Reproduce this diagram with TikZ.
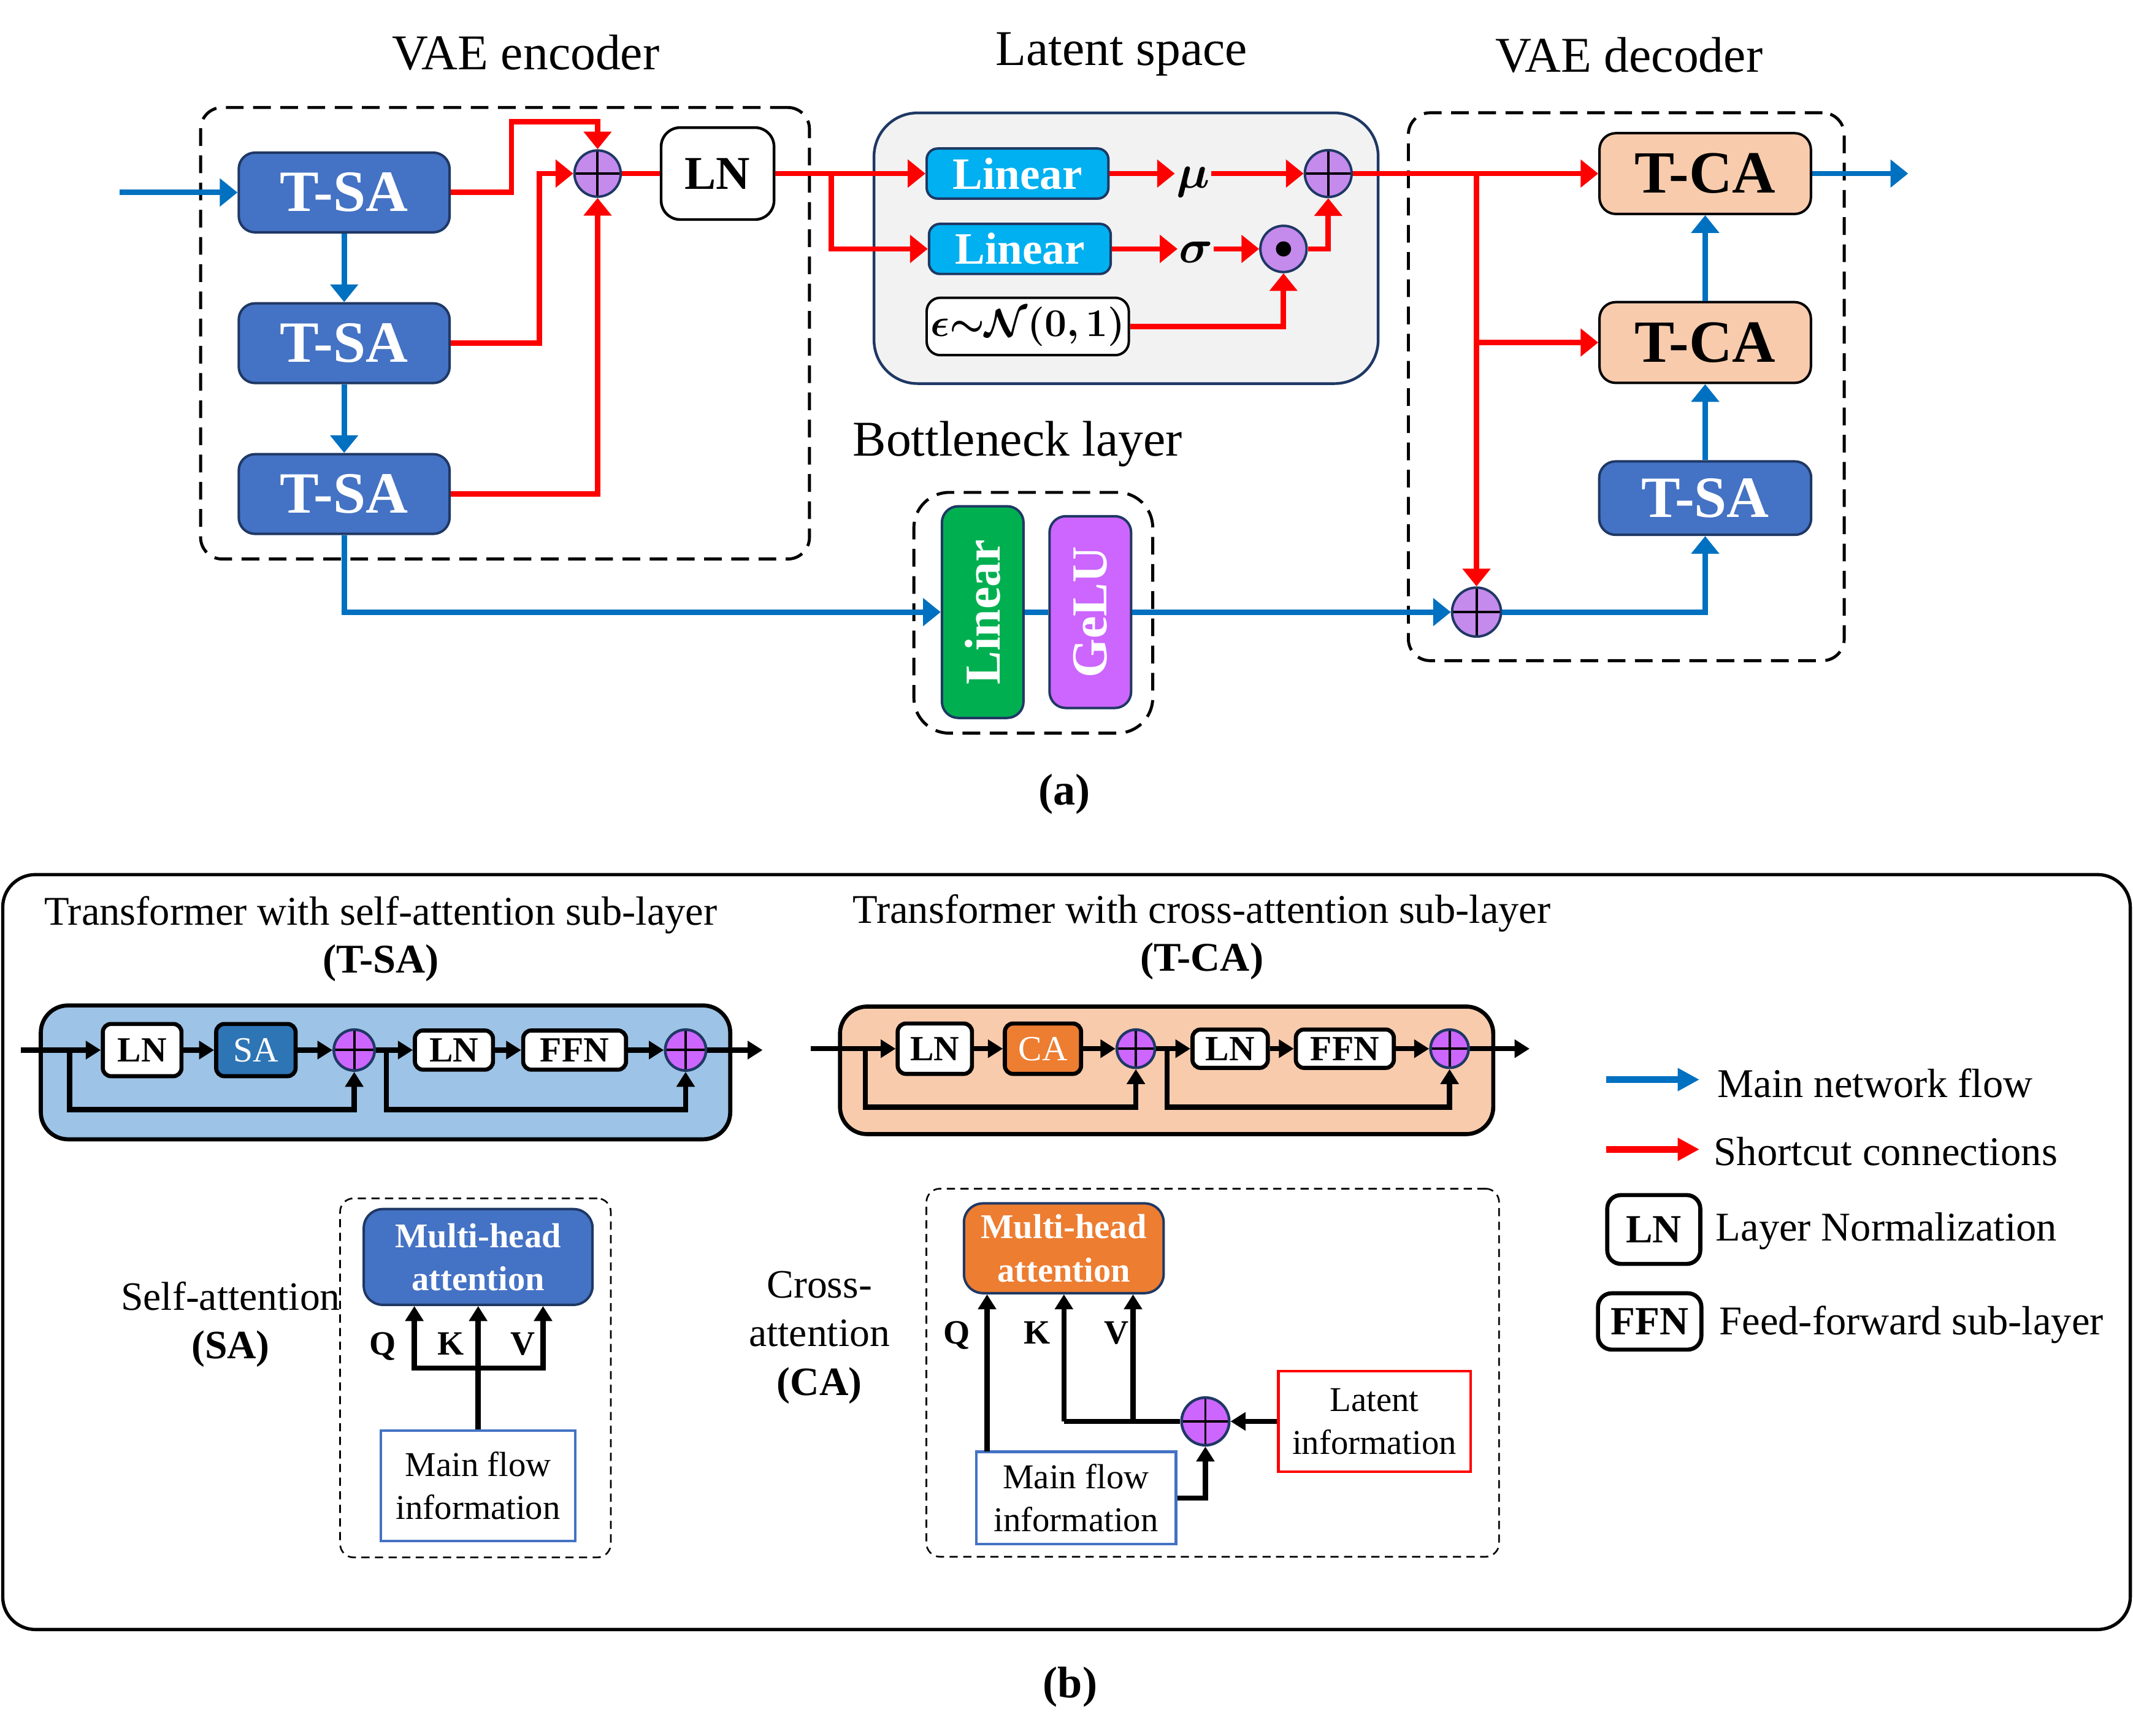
\documentclass[tikz,border=0pt]{standalone}
\usepackage{amsmath}
\usepackage{fontspec}
\setmainfont{Liberation Serif}
\usepackage{bm}
\usepackage{graphicx}
\usetikzlibrary{arrows.meta}
\definecolor{tsablue}{HTML}{4472C4}
\definecolor{navyb}{HTML}{1F3864}
\definecolor{peach}{HTML}{F8CBAD}
\definecolor{cyanb}{HTML}{00B0F0}
\definecolor{lilac}{HTML}{C48AEC}
\definecolor{violetb}{HTML}{CC66FF}
\definecolor{flowblue}{HTML}{0070C0}
\definecolor{latgray}{HTML}{F2F2F2}
\definecolor{greenb}{HTML}{00B050}
\definecolor{lightblue}{HTML}{9DC3E6}
\definecolor{sablue}{HTML}{2E75B6}
\definecolor{caorange}{HTML}{ED7D31}
\definecolor{mfblue}{HTML}{4472C4}
\definecolor{redb}{HTML}{FF0000}
\newcommand{\fsz}[2]{\fontsize{#1pt}{#2pt}\selectfont}
\tikzset{
  ttl/.style={font=\fsz{18.4}{22}, inner sep=0pt},
  sub/.style={font=\fsz{15}{18}, inner sep=0pt},
  subb/.style={font=\fsz{15}{18}\bfseries, inner sep=0pt},
  dashbox/.style={draw=black, line width=1.1pt, dash pattern=on 6.5pt off 3.5pt, rounded corners=8pt, inner sep=0pt},
  thindash/.style={draw=black, line width=0.6pt, dash pattern=on 3pt off 2pt, rounded corners=5pt, inner sep=0pt},
  tsa/.style={draw=navyb, line width=0.9pt, fill=tsablue, rounded corners=6pt, minimum width=77.5pt, minimum height=29.3pt, inner sep=0pt, text=white, font=\fsz{21.5}{24}\bfseries},
  tca/.style={draw=black, line width=0.9pt, fill=peach, rounded corners=6pt, minimum width=77.7pt, minimum height=29.7pt, inner sep=0pt, font=\fsz{22}{24}\bfseries},
  lnbig/.style={draw=black, line width=1pt, fill=white, rounded corners=7pt, minimum width=41.5pt, minimum height=33.8pt, inner sep=0pt, font=\fsz{17.3}{20}\bfseries},
  linbox/.style={draw=navyb, line width=0.9pt, fill=cyanb, rounded corners=4pt, minimum width=66.8pt, minimum height=18.4pt, inner sep=0pt, text=white, font=\fsz{16.5}{18}\bfseries},
  latbox/.style={draw=navyb, line width=1pt, fill=latgray, rounded corners=16pt, minimum width=185.3pt, minimum height=99.5pt, inner sep=0pt},
  epsbox/.style={draw=black, line width=0.9pt, fill=white, rounded corners=5pt, minimum width=74.3pt, minimum height=21.1pt, inner sep=0pt, font=\fsz{15.5}{18}},
  mlbl/.style={minimum width=13pt, inner sep=0pt, font=\fsz{16.5}{18}},
  sumA/.style={circle, draw=navyb, line width=0.9pt, fill=lilac, minimum size=17pt, inner sep=0pt,
    path picture={\draw[black,line width=0.9pt] (path picture bounding box.north) -- (path picture bounding box.south) (path picture bounding box.west) -- (path picture bounding box.east);}},
  dotA/.style={circle, draw=navyb, line width=0.9pt, fill=lilac, minimum size=17pt, inner sep=0pt,
    path picture={\fill[black] (path picture bounding box.center) circle[radius=2.8pt];}},
  sumB/.style={circle, draw=navyb, line width=1pt, fill=violetb, minimum size=15pt, inner sep=0pt,
    path picture={\draw[black,line width=0.9pt] (path picture bounding box.north) -- (path picture bounding box.south) (path picture bounding box.west) -- (path picture bounding box.east);}},
  rotbox/.style={draw=navyb, line width=0.9pt, rounded corners=6pt, minimum width=30pt, inner sep=0pt, text=white, font=\fsz{18.5}{20}\bfseries},
  bflow/.style={draw=flowblue, line width=2pt, -{Triangle[length=6.5pt,width=10pt]}},
  bline/.style={draw=flowblue, line width=2pt},
  rflow/.style={draw=redb, line width=2pt, -{Triangle[length=6.5pt,width=10pt]}},
  rline/.style={draw=redb, line width=2pt},
  kflow/.style={draw=black, line width=1.9pt, -{Triangle[length=5.5pt,width=6.5pt]}},
  kline/.style={draw=black, line width=1.9pt},
  wbox/.style={draw=black, line width=1.5pt, fill=white, rounded corners=3pt, inner sep=0pt, font=\fsz{13}{15}\bfseries},
  chainbg/.style={draw=black, line width=1.5pt, rounded corners=10pt, inner sep=0pt},
  mhbox/.style={draw=navyb, line width=0.9pt, rounded corners=7pt, text=white, align=center, inner sep=0pt, font=\fsz{12.75}{15.8}\bfseries},
  mfbox/.style={line width=1pt, fill=white, align=center, inner sep=0pt, font=\fsz{12.8}{15.8}},
  qkv/.style={inner sep=0pt, font=\fsz{12.5}{14}\bfseries},
  sidel/.style={inner sep=0pt, font=\fsz{14.8}{17}},
  sideb/.style={inner sep=0pt, font=\fsz{14.8}{17}\bfseries},
  legtxt/.style={inner sep=0pt, font=\fsz{15}{18}},
  legb/.style={draw=flowblue, line width=2.6pt, -{Triangle[length=8pt,width=8pt]}},
  legr/.style={draw=redb, line width=2.6pt, -{Triangle[length=8pt,width=8pt]}},
  lbl/.style={inner sep=0pt, font=\fsz{16.3}{18}\bfseries}
}
\begin{document}
\begin{tikzpicture}[x=0.5pt,y=-0.5pt]
\useasboundingbox (0,0) rectangle (1568,1276);
% ---------- (a) titles
\node[ttl,anchor=base] (tEnc) at (386.5,51) {VAE encoder};
\node[ttl,anchor=base] (tLat) at (824.5,48) {Latent space};
\node[ttl,anchor=base] (tDec) at (1197.5,53) {VAE decoder};
% ---------- encoder
\node[dashbox,minimum width=223.8pt,minimum height=166pt] (enc) at (371.25,245) {};
\node[tsa] (e1) at (253,141.5) {T-SA};
\node[tsa] (e2) at (253,252.3) {T-SA};
\node[tsa] (e3) at (253,363.2) {T-SA};
\node[sumA] (s1) at (439.3,127.6) {};
\node[lnbig] (ln) at (527.5,127.6) {LN};
\coordinate (inA) at (88,141.5);
\draw[bflow] (inA) -- (e1);
\draw[bflow] (e1) -- (e2);
\draw[bflow] (e2) -- (e3);
\coordinate (r1) at (376,89.6);
\draw[rflow] (e1.east) -| (r1) -| (s1.north);
\coordinate (r2) at (396.6,127.6);
\draw[rflow] (e2.east) -| (r2) -- (s1.west);
\draw[rflow] (e3.east) -| (s1.south);
\draw[rline] (s1.east) -- (ln.west);
% ---------- latent space
\node[latbox] (lat) at (827.8,182.5) {};
\node[linbox] (l1) at (748,127.6) {Linear};
\node[linbox] (l2) at (749.7,183) {Linear};
\node[epsbox] (eps) at (755.5,240) {$\bm{\epsilon{\sim}\mathcal{N}(0,1)}$};
\node[mlbl,anchor=base] (mu) at (877,138) {$\bm{\mu}$};
\node[mlbl,anchor=base] (sg) at (879,193) {$\bm{\sigma}$};
\node[sumA,minimum size=17.2pt] (s2) at (976.4,127.6) {};
\node[dotA] (dt) at (943.5,183) {};
\draw[rflow] (ln.east) -- (l1.west);
\coordinate (br) at (611,127.6);
\draw[rflow] (br) |- (l2.west);
\draw[rflow] (l1.east) -- (l1.east -| mu.west);
\draw[rflow] (mu.east |- l1.east) -- (s2.west);
\draw[rflow] (l2.east) -- (l2.east -| sg.west);
\draw[rflow] (sg.east |- l2.east) -- (dt.west);
\draw[rflow] (dt.east) -| (s2.south);
\draw[rflow] (eps.east) -| (dt.south);
% ---------- decoder
\node[dashbox,minimum width=160.2pt,minimum height=201.4pt] (dec) at (1195.5,284.3) {};
\node[tca] (c1) at (1253.5,127.6) {T-CA};
\node[tca] (c2) at (1253.5,251.8) {T-CA};
\node[tsa,minimum width=77.9pt,minimum height=27pt] (d1) at (1253.5,366.2) {T-SA};
\node[sumA,minimum size=18pt] (s3) at (1085.4,450) {};
\draw[rflow] (s2.east) -- (c1.west);
\coordinate (jd) at (1085.4,127.6);
\draw[rflow] (jd) -- (s3.north);
\draw[rflow] (jd |- c2.west) -- (c2.west);
\draw[bflow] (s3.east) -| (d1.south);
\draw[bflow] (d1) -- (c2);
\draw[bflow] (c2) -- (c1);
\coordinate (outA) at (1402.7,127.6);
\draw[bflow] (c1.east) -- (outA);
% ---------- bottleneck
\node[ttl,anchor=base] (tBot) at (748,335.4) {Bottleneck layer};
\node[dashbox,rounded corners=13pt,minimum width=87.8pt,minimum height=88.5pt] (bot) at (759.6,450.5) {};
\node[rotbox,fill=greenb,minimum height=77.8pt] (gl) at (722.4,450) {\rotatebox{90}{Linear}};
\node[rotbox,fill=violetb,minimum height=70.5pt] (ge) at (801.5,450) {\rotatebox{90}{GeLU}};
\draw[bflow] (e3.south) |- (gl.west);
\draw[bline] (gl.east) -- (ge.west);
\draw[bflow] (ge.east) -- (s3.west);
\node[lbl,anchor=base] (la) at (782.6,591.8) {(a)};
% ---------- (b) frame
\node[draw=black,line width=1.2pt,rounded corners=12pt,minimum width=782pt,minimum height=277.5pt,inner sep=0pt] (pb) at (784,920.5) {};
\node[sub,anchor=base] (tb1) at (280,680) {Transformer with self-attention sub-layer};
\node[subb,anchor=base] (tb1b) at (280,715.2) {(T-SA)};
\node[sub,anchor=base] (tb2) at (883.5,678.5) {Transformer with cross-attention sub-layer};
\node[subb,anchor=base] (tb2b) at (883.5,714) {(T-CA)};
% ---------- T-SA chain
\node[chainbg,fill=lightblue,minimum width=253.4pt,minimum height=49.2pt] (bgA) at (283.4,788.4) {};
\node[wbox,minimum width=28.9pt,minimum height=19.2pt] (aLN1) at (104.5,772) {LN};
\node[wbox,fill=sablue,text=white,font=\fsz{13}{15},minimum width=29.2pt,minimum height=19.2pt] (aSA) at (188.1,772) {SA};
\node[sumB] (aS1) at (260.4,772) {};
\node[wbox,minimum width=28.7pt,minimum height=14.4pt] (aLN2) at (333.7,772) {LN};
\node[wbox,minimum width=37.8pt,minimum height=14.4pt] (aFFN) at (422.4,772) {FFN};
\node[sumB] (aS2) at (504,772) {};
\coordinate (aIn) at (15.3,772);
\coordinate (aOut) at (560.6,772);
\draw[kflow] (aIn) -- (aLN1);
\draw[kflow] (aLN1) -- (aSA);
\draw[kflow] (aSA) -- (aS1);
\draw[kflow] (aS1) -- (aLN2);
\draw[kflow] (aLN2) -- (aFFN);
\draw[kflow] (aFFN) -- (aS2);
\draw[kflow] (aS2) -- (aOut);
\coordinate (aJ1) at (51.1,772); \coordinate (aJ1d) at (51.1,815.7);
\draw[kflow] (aJ1) -- (aJ1d) -| (aS1.south);
\coordinate (aJ2) at (284.1,772); \coordinate (aJ2d) at (284.1,815.7);
\draw[kflow] (aJ2) -- (aJ2d) -| (aS2.south);
% ---------- T-CA chain
\node[chainbg,fill=peach,minimum width=240.1pt,minimum height=46.9pt] (bgB) at (857.6,786.9) {};
\node[wbox,minimum width=27.3pt,minimum height=18.5pt] (bLN1) at (687.2,771) {LN};
\node[wbox,fill=caorange,text=white,font=\fsz{13}{15},minimum width=28pt,minimum height=18.5pt] (bCA) at (766.7,771) {CA};
\node[sumB,minimum size=14pt] (bS1) at (835,771) {};
\node[wbox,minimum width=27.7pt,minimum height=14.1pt] (bLN2) at (904.3,771) {LN};
\node[wbox,minimum width=36pt,minimum height=14.1pt] (bFFN) at (988.6,771) {FFN};
\node[sumB,minimum size=14pt] (bS2) at (1065.6,771) {};
\coordinate (bIn) at (596.1,771);
\coordinate (bOut) at (1124.4,771);
\draw[kflow] (bIn) -- (bLN1);
\draw[kflow] (bLN1) -- (bCA);
\draw[kflow] (bCA) -- (bS1);
\draw[kflow] (bS1) -- (bLN2);
\draw[kflow] (bLN2) -- (bFFN);
\draw[kflow] (bFFN) -- (bS2);
\draw[kflow] (bS2) -- (bOut);
\coordinate (bJ1) at (636,771); \coordinate (bJ1d) at (636,814);
\draw[kflow] (bJ1) -- (bJ1d) -| (bS1.south);
\coordinate (bJ2) at (857.8,771); \coordinate (bJ2d) at (857.8,814);
\draw[kflow] (bJ2) -- (bJ2d) -| (bS2.south);
% ---------- SA detail
\node[thindash,minimum width=99.5pt,minimum height=132pt] (saBox) at (349.5,1013) {};
\node[mhbox,fill=tsablue,minimum width=84.1pt,minimum height=35.2pt] (mhA) at (351.5,924.1) {Multi-head\\attention};
\node[mfbox,draw=mfblue,minimum width=71.5pt,minimum height=40.6pt] (mfA) at (351.5,1092.3) {Main flow\\information};
\coordinate (jA) at (351.5,1005.7);
\coordinate (qA) at (304.6,1005.7);
\coordinate (vA) at (399.2,1005.7);
\draw[kflow] (mfA.north) -- (mfA.north |- mhA.south);
\draw[kflow] (jA) -- (qA) -- (qA |- mhA.south);
\draw[kflow] (jA) -- (vA) -- (vA |- mhA.south);
\node[qkv,anchor=base] (qlA) at (281.4,995.9) {Q};
\node[qkv,anchor=base] (klA) at (331.5,995.9) {K};
\node[qkv,anchor=base] (vlA) at (384.2,995.9) {V};
\node[sidel,anchor=base] (saL1) at (169.5,963) {Self-attention};
\node[sideb,anchor=base] (saL2) at (169.5,999) {(SA)};
% ---------- CA detail
\node[thindash,minimum width=210.5pt,minimum height=135.3pt] (caBox) at (891.5,1009.2) {};
\node[mhbox,fill=caorange,minimum width=73.4pt,minimum height=33pt] (mhB) at (782,917.7) {Multi-head\\attention};
\node[mfbox,draw=mfblue,minimum width=73.4pt,minimum height=34pt] (mfB) at (791,1101.3) {Main flow\\information};
\node[mfbox,draw=redb,minimum width=70.7pt,minimum height=37pt] (ltB) at (1010.4,1045) {Latent\\information};
\node[sumB,minimum size=17.5pt] (sB) at (886.1,1045) {};
\coordinate (qB) at (725.6,1067.2);
\coordinate (kB) at (782.1,1045);
\coordinate (vB) at (832.9,1045);
\draw[kflow] (qB) -- (qB |- mhB.south);
\draw[kline] (sB.west) -- (kB);
\draw[kflow] (kB) -- (kB |- mhB.south);
\draw[kflow] (vB) -- (vB |- mhB.south);
\draw[kflow] (ltB.west) -- (sB.east);
\draw[kflow] (mfB.east) -| (sB.south);
\node[qkv,anchor=base] (qlB) at (703.2,988) {Q};
\node[qkv,anchor=base] (klB) at (762.6,988) {K};
\node[qkv,anchor=base] (vlB) at (820.9,988) {V};
\node[sidel,anchor=base] (caL1) at (602.4,954) {Cross-};
\node[sidel,anchor=base] (caL2) at (602.4,989.9) {attention};
\node[sideb,anchor=base] (caL3) at (602.4,1025.8) {(CA)};
% ---------- legend
\coordinate (lg1a) at (1180.7,793.7); \coordinate (lg1b) at (1249.3,793.7);
\draw[legb] (lg1a) -- (lg1b);
\coordinate (lg2a) at (1180.7,845); \coordinate (lg2b) at (1249.3,845);
\draw[legr] (lg2a) -- (lg2b);
\node[legtxt,anchor=base west] (lt1) at (1262.2,806.9) {Main network flow};
\node[legtxt,anchor=base west] (lt2) at (1259.6,857) {Shortcut connections};
\node[wbox,rounded corners=5pt,minimum width=34.2pt,minimum height=25.3pt,font=\fsz{14.7}{16}\bfseries] (lgLN) at (1215.7,903.9) {LN};
\node[legtxt,anchor=base west] (lt3) at (1261,912.3) {Layer Normalization};
\node[wbox,rounded corners=5pt,minimum width=38pt,minimum height=20.7pt,font=\fsz{14.7}{16}\bfseries] (lgFFN) at (1212.7,971.5) {FFN};
\node[legtxt,anchor=base west] (lt4) at (1263.5,981) {Feed-forward sub-layer};
\node[lbl,anchor=base] (lb) at (786.7,1248) {(b)};
\end{tikzpicture}
\end{document}
